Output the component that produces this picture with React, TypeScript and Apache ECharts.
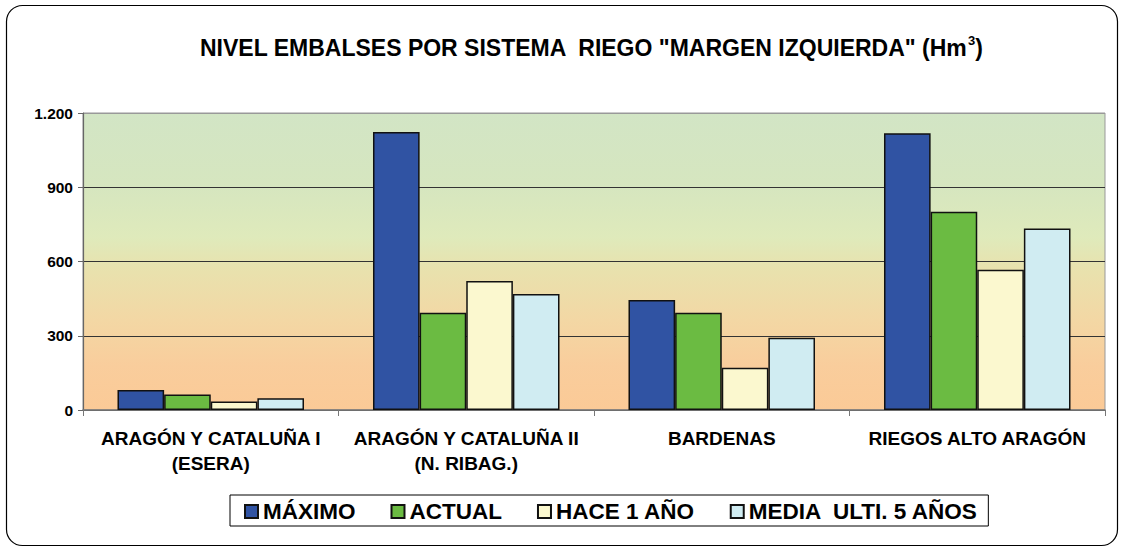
import React, { useEffect, useRef } from "react";
import * as echarts from "echarts";

const categories = [
  "ARAGÓN Y CATALUÑA I\n(ESERA)",
  "ARAGÓN Y CATALUÑA II\n(N. RIBAG.)",
  "BARDENAS",
  "RIEGOS ALTO ARAGÓN",
];
const seriesNames = ["MÁXIMO", "ACTUAL", "HACE 1 AÑO", "MEDIA  ULTI. 5 AÑOS"];
const maximo = [81, 1123, 444, 1118];
const actual = [63, 393, 393, 801];
const hace1 = [34, 521, 171, 567];
const media5 = [47, 469, 292, 733];
const yTicks = [0, 300, 600, 900, 1200];
const colors = ["#3053A3", "#6BBB42", "#FBF8CF", "#D0ECF2"];

const FONT = "'Liberation Sans', Arial, sans-serif";

export default function App() {
  const ref = useRef<HTMLDivElement>(null);
  useEffect(() => {
    if (!ref.current) return;
    const chart = echarts.init(ref.current, null, { renderer: "svg" });
    const data = [maximo, actual, hace1, media5];
    chart.setOption({
      animation: false,
      backgroundColor: "#fff",
      title: {
        text: '{a|NIVEL EMBALSES POR SISTEMA  RIEGO "MARGEN IZQUIERDA" (Hm}{s|3}{a|)}',
        left: 195,
        top: 29,
        textStyle: {
          rich: {
            a: { fontFamily: FONT, fontWeight: "bold", fontSize: 23, color: "#000", lineHeight: 28 },
            s: { fontFamily: FONT, fontWeight: "bold", fontSize: 13, color: "#000", verticalAlign: "top", lineHeight: 28 },
          },
        },
      },
      graphic: [
        {
          type: "rect",
          shape: { x: 6.5, y: 5.5, width: 1111, height: 540, r: 16 },
          style: { fill: "none", stroke: "#000", lineWidth: 1.2 },
          silent: true,
        },
      ],
      legend: {
        left: 230,
        top: 495,
        data: seriesNames,
        icon: "rect",
        itemWidth: 13,
        itemHeight: 13,
        itemGap: 35,
        padding: [5, 10, 3, 14],
        borderColor: "#000",
        borderWidth: 1,
        borderRadius: 0,
        textStyle: { fontFamily: FONT, fontWeight: "bold", fontSize: 22.5, color: "#000" },
      },
      grid: {
        left: 83,
        right: 21,
        top: 113,
        bottom: 140,
        show: true,
        borderColor: "#999",
        borderWidth: 1,
        backgroundColor: new echarts.graphic.LinearGradient(0, 0, 0, 1, [
          { offset: 0, color: "#D2E5C5" },
          { offset: 0.25, color: "#D6E6BF" },
          { offset: 0.42, color: "#DFEABB" },
          { offset: 0.52, color: "#E8E2AE" },
          { offset: 0.7, color: "#F3D7A4" },
          { offset: 0.85, color: "#F9CD9C" },
          { offset: 1, color: "#FBCA97" },
        ]),
      },
      xAxis: {
        type: "category",
        data: categories,
        axisLine: { show: true, lineStyle: { color: "#777", width: 1.5 } },
        axisTick: { show: true, length: 6, lineStyle: { color: "#777" } },
        axisLabel: {
          fontFamily: FONT,
          fontWeight: "bold",
          fontSize: 19,
          color: "#000",
          margin: 16,
          lineHeight: 25,
          interval: 0,
        },
      },
      yAxis: {
        type: "value",
        min: yTicks[0],
        max: yTicks[yTicks.length - 1],
        interval: 300,
        axisLine: { show: true, lineStyle: { color: "#666", width: 1.2 } },
        axisTick: { show: true, length: 5, lineStyle: { color: "#666" } },
        splitLine: { show: true, lineStyle: { color: ["#555", "#333", "#333", "#333", "#999"], width: 1 } },
        axisLabel: {
          fontFamily: FONT,
          fontWeight: "bold",
          fontSize: 15.5,
          color: "#000",
          margin: 10,
          formatter: (v: number) => v.toString().replace(/\B(?=(\d{3})+(?!\d))/g, "."),
        },
      },
      series: seriesNames.map((name, i) => ({
        name,
        type: "bar",
        data: data[i],
        barGap: "0%",
        barCategoryGap: "27%",
        itemStyle: { color: colors[i], borderColor: "#111", borderWidth: 1.5 },
      })),
    });
    return () => chart.dispose();
  }, []);
  return (
    <div
      ref={ref}
      style={{ position: "absolute", left: 0, top: 0, width: 1126, height: 550 }}
    />
  );
}
